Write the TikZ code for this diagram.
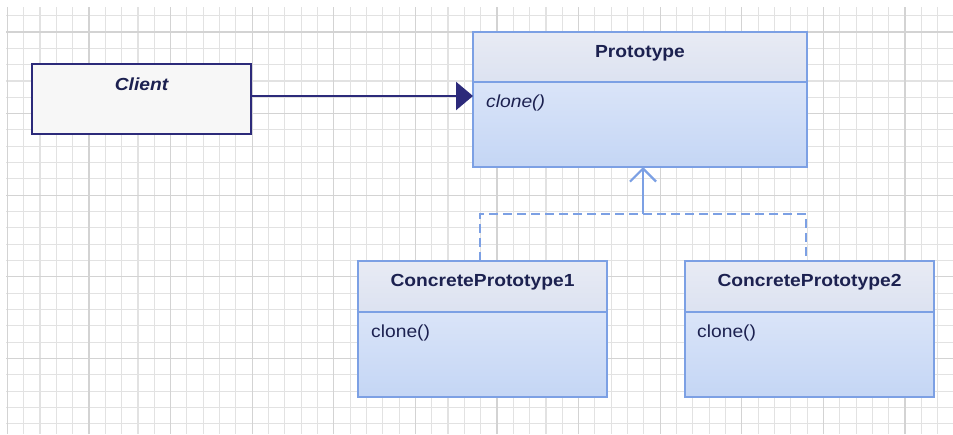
\documentclass[tikz,border=0pt]{standalone}
\usepackage{fontspec}
\setmainfont{Liberation Sans}[FakeStretch=1.1]
\usetikzlibrary{arrows.meta}
\definecolor{gridminor}{HTML}{E2E2E2}
\definecolor{gridmajor}{HTML}{D3D3D3}
\definecolor{navy}{HTML}{2C2A7A}
\definecolor{umlblue}{HTML}{7CA0E4}
\definecolor{headtop}{HTML}{E8EBF4}
\definecolor{headbot}{HTML}{DCE2F1}
\definecolor{bodytop}{HTML}{DAE4F8}
\definecolor{bodybot}{HTML}{C4D6F5}
\definecolor{txt}{HTML}{1C2150}
\tikzset{
  boxbase/.style={rectangle, inner sep=0pt, outer sep=0pt},
  clientbox/.style={boxbase, draw=navy, line width=2.6pt, fill=white!97!black},
  headbox/.style={boxbase, draw=umlblue, line width=1.7pt, top color=headtop, bottom color=headbot},
  bodybox/.style={boxbase, draw=umlblue, line width=1.7pt, top color=bodytop, bottom color=bodybot},
  lbl/.style={inner sep=0pt, anchor=base, text=txt, font=\fontsize{17.5}{20}\selectfont},
  opname/.style={inner sep=0pt, anchor=base west, text=txt, font=\fontsize{17.5}{20}\selectfont},
  assoc/.style={draw=navy, line width=2.6pt, -{Triangle[length=17pt,width=28pt]}},
  realize/.style={draw=umlblue, line width=2.2pt, dash pattern=on 9pt off 5pt},
  inherit/.style={draw=umlblue, line width=2.2pt, -{Straight Barb[length=13pt,width=26pt,line width=2.2pt]}},
}
\begin{document}
\begin{tikzpicture}[x=1pt,y=1pt]
\useasboundingbox (0,0) rectangle (953,434);
\fill[white] (0,0) rectangle (953,434);
% grid
\foreach \i in {0,...,57} {
  \draw[gridminor, line width=1.1pt] ({7.4+16.32*\i},0) -- ({7.4+16.32*\i},427);
}
\foreach \k in {0,...,25} {
  \draw[gridminor, line width=1.1pt] (6,{434-15.7-16.32*\k}) -- (953,{434-15.7-16.32*\k});
}
\foreach \i in {0,...,11} {
  \draw[gridmajor, line width=1.3pt] ({7.4+81.6*\i},0) -- ({7.4+81.6*\i},427);
}
\foreach \j in {0,...,4} {
  \draw[gridmajor, line width=1.3pt] (6,{434-32-81.6*\j}) -- (953,{434-32-81.6*\j});
}
% Client
\node[clientbox, minimum width=219pt, minimum height=70pt] (client) at (141.5,{434-99}) {};
\node[lbl, font=\fontsize{17.5}{20}\selectfont\bfseries\itshape] (clientname) at (141.5,{434-90.5}) {Client};
% Prototype
\node[headbox, minimum width=334pt, minimum height=50pt] (protohead) at (640,{434-57}) {};
\node[bodybox, minimum width=334pt, minimum height=85pt, anchor=north] (protobody) at (protohead.south) {};
\node[lbl, font=\fontsize{17.5}{20}\selectfont\bfseries] (protoname) at (640,{434-58}) {Prototype};
\node[opname, font=\fontsize{17.5}{20}\selectfont\itshape] (protoop) at (486,{434-108}) {clone()};
% ConcretePrototype1
\node[headbox, minimum width=249pt, minimum height=51pt] (cpAhead) at (482.5,{434-286.5}) {};
\node[bodybox, minimum width=249pt, minimum height=85pt, anchor=north] (cpAbody) at (cpAhead.south) {};
\node[lbl, font=\fontsize{17.5}{20}\selectfont\bfseries] (cpAname) at (482.5,{434-287}) {ConcretePrototype1};
\node[opname] (cpAop) at (371,{434-338}) {clone()};
% ConcretePrototype2
\node[headbox, minimum width=249pt, minimum height=51pt] (cpBhead) at (809.5,{434-286.5}) {};
\node[bodybox, minimum width=249pt, minimum height=85pt, anchor=north] (cpBbody) at (cpBhead.south) {};
\node[lbl, font=\fontsize{17.5}{20}\selectfont\bfseries] (cpBname) at (809.5,{434-287}) {ConcretePrototype2};
\node[opname] (cpBop) at (697,{434-338}) {clone()};
% connectors
\draw[assoc] ([yshift=3pt]client.east) -- ([yshift=3pt]client.east -| protobody.west);
\coordinate (junction) at (643,{434-214});
\draw[realize] ([xshift=-2.5pt]cpAhead.north) |- (junction) -| ([xshift=-3.5pt]cpBhead.north);
\draw[inherit] (junction) -- (junction |- protobody.south);
\end{tikzpicture}
\end{document}
